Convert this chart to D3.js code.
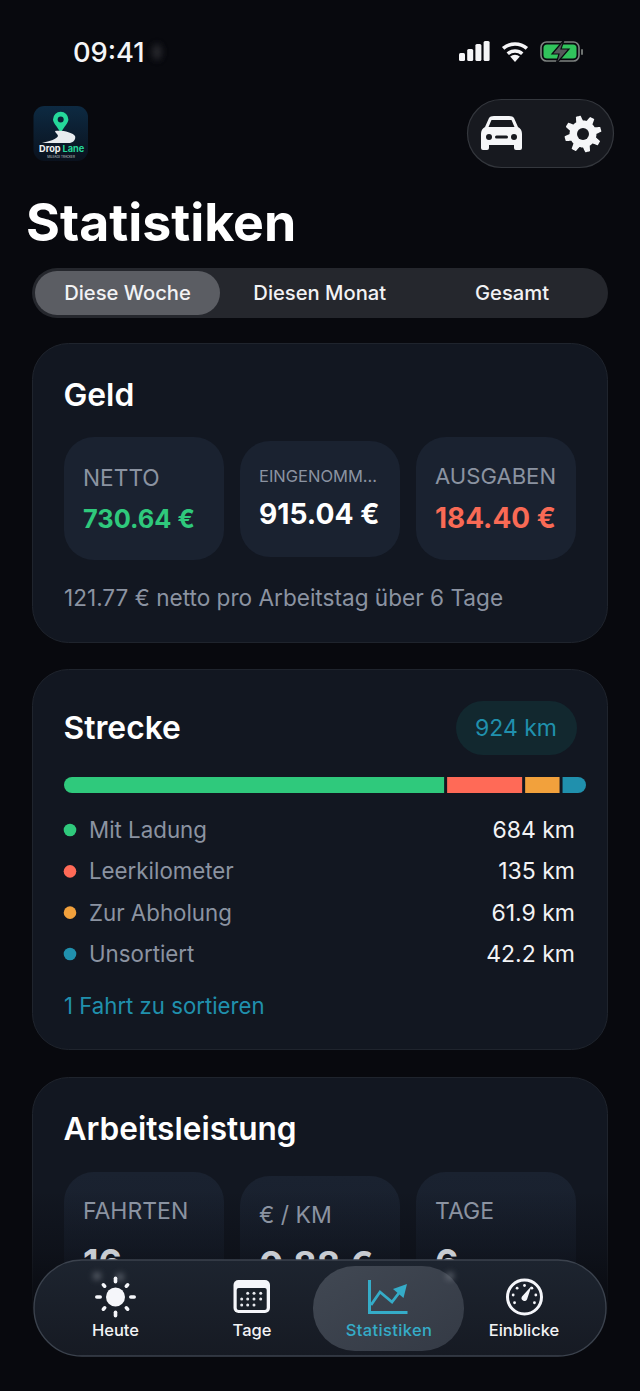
<!DOCTYPE html>
<html>
<head>
<meta charset="utf-8">
<script src="https://cdn.jsdelivr.net/npm/d3@7"></script>
<style>
html, body { margin: 0; padding: 0; background: #08090e; }
svg { display: block; font-family: Inter, Roboto, sans-serif; }
</style>
</head>
<body>
<script>
const periods = ['Diese Woche', 'Diesen Monat', 'Gesamt'];
const moneyLabels = ['NETTO', 'EINGENOMM...', 'AUSGABEN'];
const moneyValues = ['730.64 €', '915.04 €', '184.40 €'];
const workLabels = ['FAHRTEN', '€ / KM', 'TAGE'];
const workValues = ['16', '0.88 €', '6'];
const distanceLabels = ['Mit Ladung', 'Leerkilometer', 'Zur Abholung', 'Unsortiert'];
const distanceValues = [684, 135, 61.9, 42.2];
const totalKm = 924;
const navLabels = ['Heute', 'Tage', 'Statistiken', 'Einblicke'];

const width = 640, height = 1391;
const green = '#2fc97c', red = '#ff6a57', orange = '#f2a13c', teal = '#2090ad';
const muted = '#8b93a1';
const page = '#08090e';

const svg = d3.select('body').append('svg')
    .attr('width', width)
    .attr('height', height);

const defs = svg.append('defs');
defs.append('filter').attr('id', 'blur')
    .attr('x', '-150%').attr('y', '-150%').attr('width', '400%').attr('height', '400%')
    .append('feGaussianBlur').attr('stdDeviation', 3);
defs.append('clipPath').attr('id', 'barClip').append('rect')
    .attr('x', 64).attr('y', 777).attr('width', 522).attr('height', 16).attr('rx', 8);

function vGradient(id, stops) {
    const g = defs.append('linearGradient').attr('id', id)
        .attr('x1', 0).attr('y1', 0).attr('x2', 0).attr('y2', 1);
    stops.forEach(s => g.append('stop')
        .attr('offset', s[0]).attr('stop-color', s[1]).attr('stop-opacity', s[2] === undefined ? 1 : s[2]));
}
vGradient('tileFade', [[0, '#1a2230'], [1, '#161d2a']]);
vGradient('navFill', [[0, '#1d242f'], [1, '#161a23']]);
vGradient('cardFade', [[0, page, 0], [0.45, page, 0.35], [1, page, 1]]);
vGradient('logoFill', [[0, '#0d2a42'], [1, '#0a111d']]);
const pillFill = defs.append('linearGradient').attr('id', 'pillFill')
    .attr('x1', 0).attr('y1', 0).attr('x2', 1).attr('y2', 1);
pillFill.append('stop').attr('offset', 0).attr('stop-color', '#414853');
pillFill.append('stop').attr('offset', 1).attr('stop-color', '#343a45');

function label(g, x, y, text, size, color, weight, anchor) {
    return g.append('text')
        .attr('x', x)
        .attr('y', y)
        .attr('font-size', size)
        .attr('font-weight', weight || 400)
        .attr('fill', color)
        .attr('text-anchor', anchor || 'start')
        .text(text);
}

function card(y, h) {
    svg.append('rect')
        .attr('x', 32.5).attr('y', y).attr('width', 575).attr('height', h).attr('rx', 36)
        .attr('fill', '#121721')
        .attr('stroke', '#1f242d');
}

// status bar
label(svg, 73, 62, '09:41', 27.3, '#f5f5f7', 500);
svg.append('ellipse').attr('cx', 157).attr('cy', 52).attr('rx', 5).attr('ry', 8)
    .attr('fill', '#3a3b40').attr('filter', 'url(#blur)').attr('opacity', 0.6);

const signal = svg.append('g');
signal.selectAll('rect').data([8, 12, 17, 20]).enter().append('rect')
    .attr('x', (d, i) => 459 + i * 8.2)
    .attr('y', d => 61 - d)
    .attr('width', 6)
    .attr('height', d => d)
    .attr('rx', 1.5)
    .attr('fill', '#f5f5f7');

const wifi = svg.append('g').attr('transform', 'translate(515,62)');
wifi.append('path').attr('d', 'M0 0 L-4.8 -5.5 A7.3 7.3 0 0 1 4.8 -5.5 Z').attr('fill', '#f5f5f7');
[11, 18].forEach(r => {
    const a = 0.72;
    wifi.append('path')
        .attr('d', `M${-r * Math.sin(a)} ${-r * Math.cos(a)} A${r} ${r} 0 0 1 ${r * Math.sin(a)} ${-r * Math.cos(a)}`)
        .attr('fill', 'none').attr('stroke', '#f5f5f7').attr('stroke-width', 3.6);
});

svg.append('rect').attr('x', 541).attr('y', 42).attr('width', 38).attr('height', 19).attr('rx', 5.5)
    .attr('fill', 'none').attr('stroke', '#7d8280').attr('stroke-width', 1.6);
svg.append('rect').attr('x', 543.5).attr('y', 44.5).attr('width', 33).attr('height', 14).attr('rx', 3.5)
    .attr('fill', '#31c45c');
svg.append('rect').attr('x', 581).attr('y', 49).attr('width', 2).attr('height', 6).attr('rx', 1)
    .attr('fill', '#6d7270');
svg.append('path').attr('d', 'M564 40 L552 54 L559 54 L556 64 L569 49 L561 49 Z')
    .attr('fill', '#55595a').attr('stroke', '#0a0b10').attr('stroke-width', 1.2);

// app logo
svg.append('rect').attr('x', 33.5).attr('y', 106).attr('width', 54.5).attr('height', 55).attr('rx', 11)
    .attr('fill', 'url(#logoFill)');
svg.append('path')
    .attr('d', 'M60.7 133 C57 126 53 123 53 119.5 A7.7 7.7 0 0 1 68.4 119.5 C68.4 123 64.5 126 60.7 133 Z')
    .attr('fill', '#25d89a');
svg.append('circle').attr('cx', 60.7).attr('cy', 119.5).attr('r', 3).attr('fill', '#0c2036');
svg.append('path').attr('d', 'M55 131 C62 130 72 132 75 136 C76 139 74 142 70 143 L42 143 C50 141 57 139 58 136 C58 134 55 133 55 131 Z')
    .attr('fill', '#e8ecef');
label(svg, 39, 151.7, 'Drop', 9.2, '#f2f4f5', 700);
label(svg, 62.5, 151.7, 'Lane', 9.2, '#25d89a', 700);
label(svg, 61, 157.5, 'MILEAGE TRACKER', 3, '#c5cbd1', 400, 'middle');

// car + settings pill
svg.append('rect').attr('x', 467.5).attr('y', 99.5).attr('width', 146).attr('height', 68).attr('rx', 34)
    .attr('fill', '#17191f').attr('stroke', '#34373d').attr('stroke-width', 1.2);
svg.append('path')
    .attr('d', 'M489 118 Q490 116 494 116 L509 116 Q513 116 514 118 L518 127 Q522 129 522 134 L522 148 Q522 150 520 150 L516 150 Q514 150 514 148 L514 145 L489 145 L489 148 Q489 150 487 150 L483 150 Q481 150 481 148 L481 134 Q481 129 485 127 Z')
    .attr('fill', '#f5f6f8');
svg.append('path').attr('d', 'M491.5 120 L511.5 120 L514.5 127 L488.5 127 Z').attr('fill', '#17191f');
svg.append('circle').attr('cx', 489).attr('cy', 137).attr('r', 3).attr('fill', '#17191f');
svg.append('circle').attr('cx', 514).attr('cy', 137).attr('r', 3).attr('fill', '#17191f');
svg.append('rect').attr('x', 495).attr('y', 135.5).attr('width', 13).attr('height', 3).attr('rx', 1.5).attr('fill', '#17191f');

const gearPts = d3.range(48).map(i => {
    const a = i / 48 * 2 * Math.PI + Math.PI / 8;
    const r = (i % 6 < 3) ? 18.5 : 13.5;
    return [Math.cos(a) * r, Math.sin(a) * r];
});
const gear = svg.append('g').attr('transform', 'translate(583,134)');
gear.append('path').attr('d', d3.line().curve(d3.curveCardinalClosed.tension(0.8))(gearPts)).attr('fill', '#f5f6f8');
gear.append('circle').attr('r', 6).attr('fill', '#17191f');

// title
label(svg, 26, 241, 'Statistiken', 51.8, '#ffffff', 700);

// period tabs
svg.append('rect').attr('x', 32).attr('y', 268).attr('width', 576).attr('height', 50).attr('rx', 25)
    .attr('fill', '#25272d');
svg.append('rect').attr('x', 35).attr('y', 271).attr('width', 185).attr('height', 44).attr('rx', 22)
    .attr('fill', '#5b5d63');
const periodX = d3.scalePoint().domain(periods).range([127.5, 512]);
svg.selectAll('.period').data(periods).enter().append('text')
    .attr('class', 'period')
    .attr('x', d => periodX(d))
    .attr('y', 300)
    .attr('text-anchor', 'middle')
    .attr('font-size', 20.2)
    .attr('font-weight', 500)
    .attr('fill', '#f2f2f4')
    .text(d => d);

// Geld card
card(343.5, 299);
label(svg, 63.5, 406, 'Geld', 31.8, '#ffffff', 600);

const tileX = d3.scaleBand().domain([0, 1, 2]).range([64, 576]).paddingInner(16 / 176);
const tileTop = [437, 441, 437], tileH = [123, 116, 123];
const moneyColors = [green, '#ffffff', '#f96a55'];
const labelSize = [22.7, 16.5, 22.1];
const valueSize = [25.4, 28.2, 27.9];
const labelY = [486, 482, 484], valueY = [528, 524, 528];

svg.selectAll('.moneyTile').data(moneyLabels).enter().append('rect')
    .attr('class', 'moneyTile')
    .attr('x', (d, i) => tileX(i))
    .attr('y', (d, i) => tileTop[i])
    .attr('width', tileX.bandwidth())
    .attr('height', (d, i) => tileH[i])
    .attr('rx', 30)
    .attr('fill', '#1a2230');
svg.selectAll('.moneyLabel').data(moneyLabels).enter().append('text')
    .attr('class', 'moneyLabel')
    .attr('x', (d, i) => tileX(i) + 19)
    .attr('y', (d, i) => labelY[i])
    .attr('font-size', (d, i) => labelSize[i])
    .attr('fill', muted)
    .text(d => d);
svg.selectAll('.moneyValue').data(moneyValues).enter().append('text')
    .attr('class', 'moneyValue')
    .attr('x', (d, i) => tileX(i) + 19)
    .attr('y', (d, i) => valueY[i])
    .attr('font-size', (d, i) => valueSize[i])
    .attr('font-weight', 700)
    .attr('fill', (d, i) => moneyColors[i])
    .text(d => d);
label(svg, 64, 606, '121.77 € netto pro Arbeitstag über 6 Tage', 22.6, muted);

// Strecke card
card(669.5, 380);
label(svg, 63.5, 739, 'Strecke', 31.8, '#ffffff', 600);
svg.append('rect').attr('x', 456).attr('y', 701).attr('width', 121).attr('height', 54).attr('rx', 27)
    .attr('fill', '#12282f');
label(svg, 516, 736, totalKm + ' km', 23, teal, 400, 'middle');

const gap = 3;
const total = d3.sum(distanceValues);
const barX = d3.scaleLinear().domain([0, total]).range([64, 586 - gap * (distanceValues.length - 1)]);
const starts = distanceValues.map((d, i) => d3.sum(distanceValues.slice(0, i)));
const color = d3.scaleOrdinal().domain(distanceLabels).range([green, red, orange, teal]);

svg.append('g').attr('clip-path', 'url(#barClip)')
    .selectAll('rect').data(distanceValues).enter().append('rect')
    .attr('x', (d, i) => barX(starts[i]) + i * gap)
    .attr('y', 777)
    .attr('width', d => barX(d) - barX(0))
    .attr('height', 16)
    .attr('fill', (d, i) => color(distanceLabels[i]));

const rowY = d3.scalePoint().domain(distanceLabels).range([830, 954]);
const row = svg.selectAll('.row').data(distanceLabels).enter().append('g')
    .attr('class', 'row')
    .attr('transform', d => `translate(0,${rowY(d)})`);
row.append('circle').attr('cx', 70).attr('r', 6.3).attr('fill', d => color(d));
row.append('text')
    .attr('x', 89).attr('y', 8)
    .attr('font-size', 22.3)
    .attr('fill', muted)
    .text(d => d);
row.append('text')
    .attr('x', 575).attr('y', 8)
    .attr('font-size', 23)
    .attr('fill', '#f2f3f5')
    .attr('text-anchor', 'end')
    .text((d, i) => distanceValues[i] + ' km');
label(svg, 64, 1014, '1 Fahrt zu sortieren', 22.2, teal);

// Arbeitsleistung card, runs under the tab bar and fades out
card(1077.5, 320);
const workTop = [1172, 1176, 1172];
const workLabelY = [1219, 1223, 1219];
const workValueY = [1275, 1277, 1275];
const workSize = [36, 36, 36];
svg.selectAll('.workTile').data(workLabels).enter().append('rect')
    .attr('class', 'workTile')
    .attr('x', (d, i) => tileX(i))
    .attr('y', (d, i) => workTop[i])
    .attr('width', tileX.bandwidth())
    .attr('height', 130)
    .attr('rx', 30)
    .attr('fill', 'url(#tileFade)');
svg.append('rect').attr('x', 0).attr('y', 1190).attr('width', width).attr('height', 130)
    .attr('fill', 'url(#cardFade)');
svg.append('rect').attr('x', 0).attr('y', 1320).attr('width', width).attr('height', 71)
    .attr('fill', page);
label(svg, 63.5, 1140, 'Arbeitsleistung', 31.6, '#ffffff', 600);
svg.selectAll('.workLabel').data(workLabels).enter().append('text')
    .attr('class', 'workLabel')
    .attr('x', (d, i) => tileX(i) + 19)
    .attr('y', (d, i) => workLabelY[i])
    .attr('font-size', 23)
    .attr('fill', muted)
    .text(d => d);
svg.selectAll('.workValue').data(workValues).enter().append('text')
    .attr('class', 'workValue')
    .attr('x', (d, i) => tileX(i) + 19)
    .attr('y', (d, i) => workValueY[i])
    .attr('font-size', (d, i) => workSize[i])
    .attr('font-weight', 700)
    .attr('fill', '#c8ccd2')
    .text(d => d);

// tab bar
svg.append('rect').attr('x', 34).attr('y', 1260).attr('width', 572).attr('height', 96).attr('rx', 48)
    .attr('fill', 'url(#navFill)')
    .attr('stroke', '#3b424d')
    .attr('stroke-width', 1.4);
svg.append('rect').attr('x', 313).attr('y', 1266).attr('width', 151).attr('height', 85).attr('rx', 42)
    .attr('fill', 'url(#pillFill)');
[[97, 1276], [120, 1277], [450, 1276]].forEach(p => {
    svg.append('circle').attr('cx', p[0]).attr('cy', p[1]).attr('r', 3.5)
        .attr('fill', '#8c929b').attr('filter', 'url(#blur)').attr('opacity', 0.7);
});

const navX = d3.scaleOrdinal().domain(navLabels).range([115.5, 252, 389, 524]);
svg.selectAll('.navLabel').data(navLabels).enter().append('text')
    .attr('class', 'navLabel')
    .attr('x', d => navX(d))
    .attr('y', 1336)
    .attr('text-anchor', 'middle')
    .attr('font-size', 16.5)
    .attr('font-weight', 500)
    .attr('letter-spacing', d => d === 'Statistiken' ? 0.35 : 0)
    .attr('fill', d => d === 'Statistiken' ? '#35acc8' : '#f2f3f5')
    .text(d => d);

// sun
const sun = svg.append('g').attr('transform', 'translate(115.5,1297)').attr('fill', '#f5f6fa');
sun.append('circle').attr('r', 9.5);
d3.range(8).forEach(i => {
    const long = i % 2 === 0;
    sun.append('rect')
        .attr('x', 13.5).attr('y', -1.8)
        .attr('width', long ? 7 : 5.5).attr('height', 3.6).attr('rx', 1.8)
        .attr('transform', `rotate(${i * 45})`);
});

// calendar
const cal = svg.append('g').attr('transform', 'translate(233.5,1280)');
cal.append('rect').attr('width', 36.5).attr('height', 33).attr('rx', 5).attr('fill', '#f5f6fa');
cal.append('rect').attr('x', 3.2).attr('y', 8).attr('width', 30).attr('height', 22).attr('rx', 2).attr('fill', '#1a2029');
const calCols = [8.2, 14.2, 20.5, 27.2], calRows = [13.3, 19, 25];
[[1, 0], [2, 0], [3, 0], [0, 1], [1, 1], [2, 1], [3, 1], [0, 2], [1, 2], [2, 2]].forEach(p => {
    cal.append('circle').attr('cx', calCols[p[0]]).attr('cy', calRows[p[1]]).attr('r', 1.5).attr('fill', '#e8e9ee');
});

// chart icon
const chartIcon = svg.append('g');
chartIcon.append('path').attr('d', 'M369.5 1280 L369.5 1312.5 L407.5 1312.5')
    .attr('fill', 'none').attr('stroke', '#35acc8').attr('stroke-width', 3);
chartIcon.append('path').attr('d', 'M371 1305 L380 1292 L392 1302 L402 1289')
    .attr('fill', 'none').attr('stroke', '#35acc8').attr('stroke-width', 2.8);
chartIcon.append('path').attr('d', 'M393 1289 L407 1284 L403.5 1298 Z').attr('fill', '#35acc8');

// gauge
const gauge = svg.append('g').attr('transform', 'translate(524.5,1297)');
gauge.append('circle').attr('r', 17).attr('fill', 'none').attr('stroke', '#f5f6fa').attr('stroke-width', 3);
d3.range(7).forEach(i => {
    const a = (-210 + i * 40) * Math.PI / 180;
    gauge.append('circle').attr('cx', Math.cos(a) * 11.5).attr('cy', Math.sin(a) * 11.5).attr('r', 1.4).attr('fill', '#f5f6fa');
});
gauge.append('path').attr('d', 'M-2.5 -0.5 L7 -11 L2.5 2.5 A2.8 2.8 0 0 1 -2.5 -0.5 Z').attr('fill', '#f5f6fa');
</script>
</body>
</html>
